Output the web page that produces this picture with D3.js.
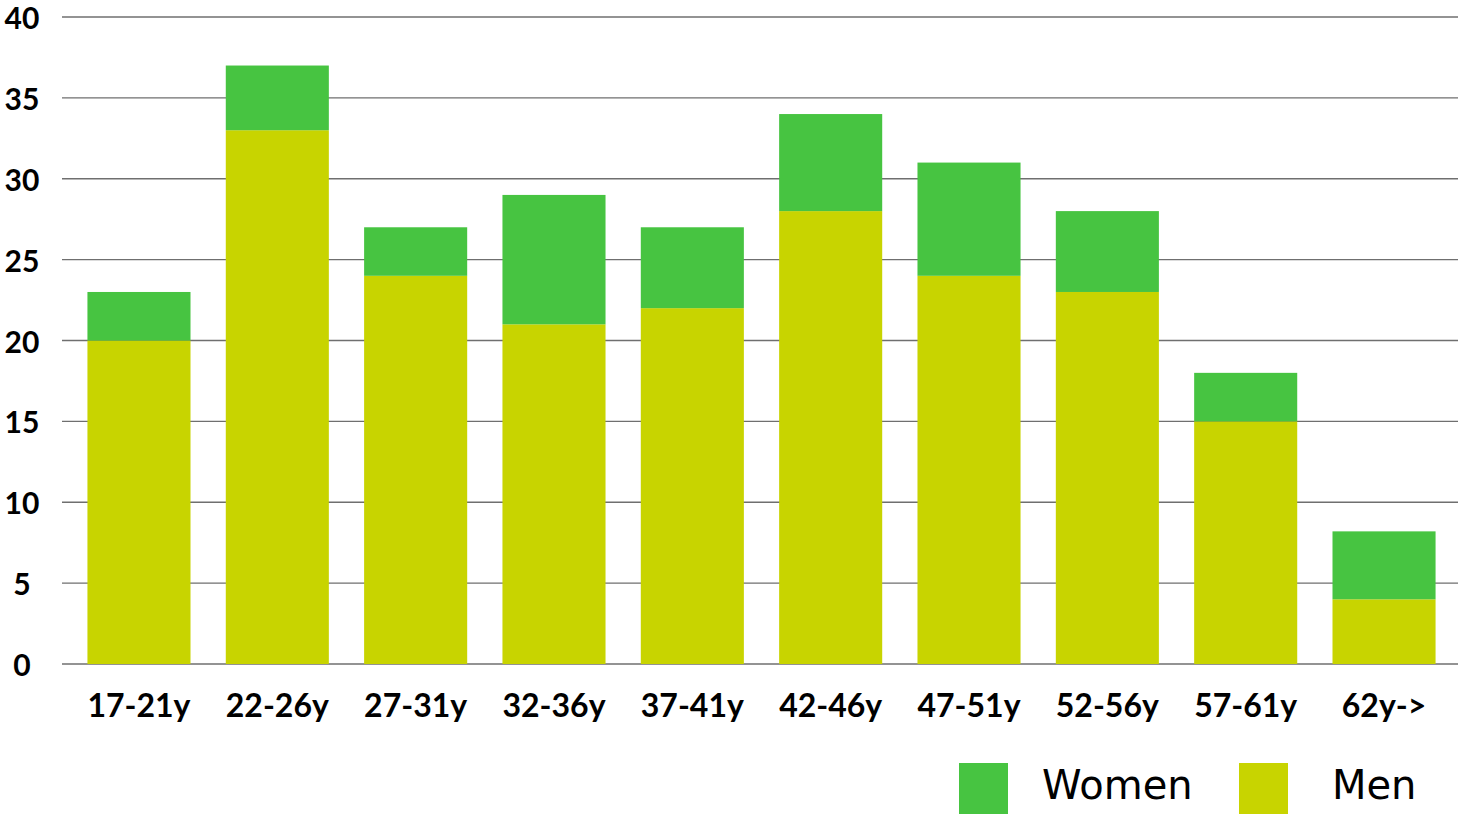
<!DOCTYPE html>
<html>
<head>
<meta charset="utf-8">
<script src="https://cdn.jsdelivr.net/npm/d3@7"></script>
<style>
  body { margin: 0; background: #fff; }
  svg { display: block; }
</style>
</head>
<body>
<svg id="chart"></svg>
<script>
var ageGroups = ["17-21y", "22-26y", "27-31y", "32-36y", "37-41y", "42-46y", "47-51y", "52-56y", "57-61y", "62y->"];
var men = [20, 33, 24, 21, 22, 28, 24, 23, 15, 4];
var women = [3, 4, 3, 8, 5, 6, 7, 5, 3, 4.2];
var yTicks = [0, 5, 10, 15, 20, 25, 30, 35, 40];

var width = 1458,
    height = 814;

var svg = d3.select("#chart")
    .attr("width", width)
    .attr("height", height);

var x = d3.scaleBand()
    .domain(ageGroups)
    .range([69.8, 1453.2])
    .paddingInner(0.255)
    .paddingOuter(0.1275);

var y = d3.scaleLinear()
    .domain([0, 40])
    .range([664, 17]);

var colWomen = "#47c441",
    colMen = "#c8d400";

// gridlines
svg.append("g").selectAll("line")
    .data(yTicks)
    .enter().append("line")
    .attr("x1", 62)
    .attr("x2", width)
    .attr("y1", function (d) { return y(d); })
    .attr("y2", function (d) { return y(d); })
    .attr("stroke", "#6f6f6f")
    .attr("stroke-width", 1.3);

// y labels
svg.append("g").selectAll("text")
    .data(yTicks)
    .enter().append("text")
    .attr("x", 22)
    .attr("y", function (d) { return y(d); })
    .attr("dy", "0.4em")
    .attr("text-anchor", "middle")
    .style("font-family", "Lato, sans-serif")
    .style("font-weight", "bold")
    .style("font-size", "30px")
    .text(function (d) { return d; });

var stack = ageGroups.map(function (g, i) {
    return { key: g, men: men[i], women: women[i] };
});

// men bars
svg.append("g").selectAll("rect")
    .data(stack)
    .enter().append("rect")
    .attr("x", function (d) { return x(d.key); })
    .attr("width", x.bandwidth())
    .attr("y", function (d) { return y(d.men); })
    .attr("height", function (d) { return y(0) - y(d.men); })
    .attr("fill", colMen);

// women bars on top
svg.append("g").selectAll("rect")
    .data(stack)
    .enter().append("rect")
    .attr("x", function (d) { return x(d.key); })
    .attr("width", x.bandwidth())
    .attr("y", function (d) { return y(d.men + d.women); })
    .attr("height", function (d) { return y(d.men) - y(d.men + d.women); })
    .attr("fill", colWomen);

// x labels
svg.append("g").selectAll("text")
    .data(ageGroups)
    .enter().append("text")
    .attr("x", function (d) { return x(d) + x.bandwidth() / 2; })
    .attr("y", 717)
    .attr("text-anchor", "middle")
    .style("font-family", "Lato, sans-serif")
    .style("font-weight", "bold")
    .style("font-size", "32px")
    .text(function (d) { return d; });

// legend
var legendItems = [
    { name: "Women", color: colWomen, x: 959 },
    { name: "Men", color: colMen, x: 1239 }
];
var leg = svg.append("g").selectAll("g")
    .data(legendItems)
    .enter().append("g")
    .attr("transform", function (d) { return "translate(" + d.x + ",763)"; });
leg.append("rect")
    .attr("width", 49)
    .attr("height", 51)
    .attr("fill", function (d) { return d.color; });
leg.append("text")
    .attr("x", function (d, i) { return i === 0 ? 83 : 93; })
    .attr("y", 36)
    .style("font-family", "'DejaVu Sans', sans-serif")
    .style("font-size", "40px")
    .text(function (d) { return d.name; });
</script>
</body>
</html>
